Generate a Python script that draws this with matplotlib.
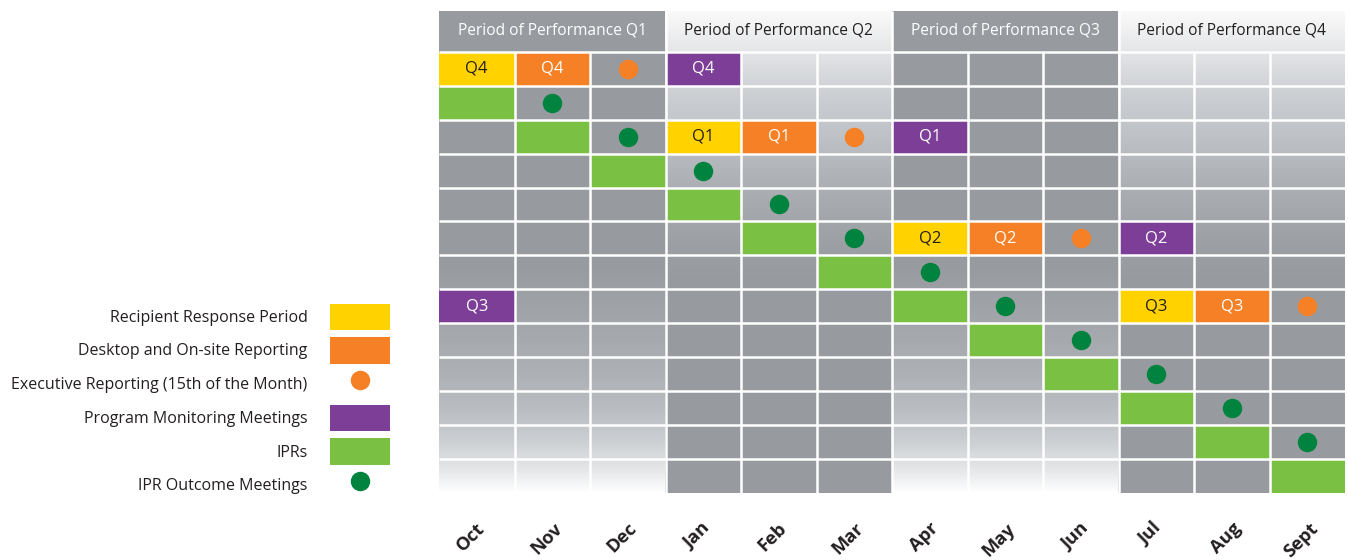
import matplotlib
matplotlib.use('Agg')
import matplotlib.pyplot as plt
import matplotlib.transforms as mtransforms
import numpy as np
from matplotlib.patches import Rectangle, Patch
from matplotlib.lines import Line2D
from matplotlib.colors import to_rgb

plt.rcParams['font.family'] = ['Open Sans', 'DejaVu Sans']

# ---------------- data ----------------
months = ['Oct', 'Nov', 'Dec', 'Jan', 'Feb', 'Mar', 'Apr', 'May', 'Jun', 'Jul', 'Aug', 'Sept']
quarter_headers = ['Period of Performance Q1', 'Period of Performance Q2',
                   'Period of Performance Q3', 'Period of Performance Q4']
n_rows = 13

# (row, month index, label)
recipient_response = [(0, 0, 'Q4'), (2, 3, 'Q1'), (5, 6, 'Q2'), (7, 9, 'Q3')]
desktop_onsite = [(0, 1, 'Q4'), (2, 4, 'Q1'), (5, 7, 'Q2'), (7, 10, 'Q3')]
program_monitoring = [(0, 3, 'Q4'), (2, 6, 'Q1'), (5, 9, 'Q2'), (7, 0, 'Q3')]
# (row, month index)
executive_reporting = [(0, 2), (2, 5), (5, 8), (7, 11)]
iprs = [(1, 0), (2, 1), (3, 2), (4, 3), (5, 4), (6, 5), (7, 6), (8, 7),
        (9, 8), (10, 9), (11, 10), (12, 11)]
ipr_outcome = [(1, 1), (2, 2), (3, 3), (4, 4), (5, 5), (6, 6), (7, 7), (8, 8),
               (9, 9), (10, 10), (11, 11)]

legend_labels = ['Recipient Response Period', 'Desktop and On-site Reporting',
                 'Executive Reporting (15th of the Month)', 'Program Monitoring Meetings',
                 'IPRs', 'IPR Outcome Meetings']

# ---------------- style ----------------
YELLOW = '#FFD200'
ORANGE = '#F58025'
PURPLE = '#7C3E97'
GREEN = '#7AC143'
DKGREEN = '#00833E'
GRAY = '#979BA0'
TEXT = '#231F20'

W, H = 1348, 560
fig = plt.figure(figsize=(W / 100, H / 100), dpi=100)
fig.patch.set_facecolor('white')
L, R, T, B = 439, 1345, 11, 493
ax = fig.add_axes([L / W, 1 - B / H, (R - L) / W, (B - T) / H])
YTOP = -1.2
ax.set_xlim(0, 12)
ax.set_ylim(n_rows, YTOP)

# background gradients
ys = np.linspace(YTOP, n_rows, 600)
down_stops = [(YTOP, GRAY), (6.3, GRAY), (8.0, '#a3a7ab'), (9.5, '#adb1b5'),
              (10.5, '#b9bcc0'), (11.5, '#cdd0d3'), (12.3, '#e4e6e8'), (13.0, '#ffffff')]
up_stops = [(YTOP, '#fafafa'), (-0.1, '#e6e7e9'), (0.5, '#d9dbde'), (1.5, '#c9ccd0'),
            (2.5, '#bec1c5'), (3.5, '#b1b4b8'), (4.5, '#a6aaae'), (5.7, '#9ca0a5'),
            (6.8, GRAY), (13.0, GRAY)]


def grad(stops):
    pos = [s[0] for s in stops]
    cols = np.array([to_rgb(s[1]) for s in stops])
    return np.stack([np.interp(ys, pos, cols[:, k]) for k in range(3)], axis=1)


gd, gu = grad(down_stops), grad(up_stops)
img = np.zeros((len(ys), 12, 3))
for j in range(12):
    img[:, j, :] = gd if (j // 3) % 2 == 0 else gu
ax.imshow(img, extent=(0, 12, n_rows, YTOP), aspect='auto', interpolation='nearest',
          origin='upper', zorder=0)

# colored cells
for rows, color in [(recipient_response, YELLOW), (desktop_onsite, ORANGE),
                    (program_monitoring, PURPLE)]:
    for r, c, _ in rows:
        ax.add_patch(Rectangle((c, r), 1, 1, facecolor=color, edgecolor='none', zorder=1))
for r, c in iprs:
    ax.add_patch(Rectangle((c, r), 1, 1, facecolor=GREEN, edgecolor='none', zorder=1))

# white grid lines
lw = 1.8
for x in range(1, 12):
    y0 = YTOP if x % 3 == 0 else 0
    ax.plot([x, x], [y0, n_rows], color='white', lw=lw, zorder=2, solid_capstyle='butt')
for y in range(0, n_rows):
    ax.plot([0, 12], [y, y], color='white', lw=lw, zorder=2, solid_capstyle='butt')

# labels in cells
for rows, tc in [(recipient_response, TEXT), (desktop_onsite, 'white'),
                 (program_monitoring, 'white')]:
    for r, c, lab in rows:
        ax.text(c + 0.5, r + 0.5, lab, ha='center', va='center', fontsize=12,
                fontweight='medium', color=tc, zorder=3)

# dots
er = np.array(executive_reporting)
ax.plot(er[:, 1] + 0.5, er[:, 0] + 0.5, 'o', ls='', ms=13, color=ORANGE, zorder=3)
io = np.array(ipr_outcome)
ax.plot(io[:, 1] + 0.5, io[:, 0] + 0.5, 'o', ls='', ms=13, color=DKGREEN, zorder=3)

# headers
for q, h in enumerate(quarter_headers):
    ax.text(q * 3 + 1.5, (YTOP + 0) / 2 - 0.03, h, ha='center', va='center', fontsize=11.2,
            fontweight='medium', color='white' if q % 2 == 0 else TEXT, zorder=3)

ax.set_xticks(np.arange(12) + 0.5)
ax.set_xticklabels(months, rotation=45, fontweight='bold', fontsize=13.2, color=TEXT,
                   ha='center', va='top')
ax.tick_params(axis='x', length=0, pad=19)
shift = mtransforms.ScaledTranslation(-6 / 100, 0, fig.dpi_scale_trans)
for lbl in ax.get_xticklabels():
    lbl.set_transform(lbl.get_transform() + shift)
ax.set_yticks([])
for s in ax.spines.values():
    s.set_visible(False)

handles = [Patch(facecolor=YELLOW), Patch(facecolor=ORANGE),
           Line2D([], [], marker='o', ls='', ms=13, color=ORANGE),
           Patch(facecolor=PURPLE), Patch(facecolor=GREEN),
           Line2D([], [], marker='o', ls='', ms=13, color=DKGREEN)]
leg = fig.legend(handles, legend_labels, loc='center right',
                 bbox_to_anchor=(390 / W, 1 - 401 / H), markerfirst=False, frameon=False,
                 handlelength=3.75, handleheight=2.15, handletextpad=1.4, labelspacing=0.47,
                 fontsize=11.5, borderpad=0, borderaxespad=0)
for t in leg.get_texts():
    t.set_color(TEXT)

fig.savefig('out.png', dpi=100, facecolor='white')
